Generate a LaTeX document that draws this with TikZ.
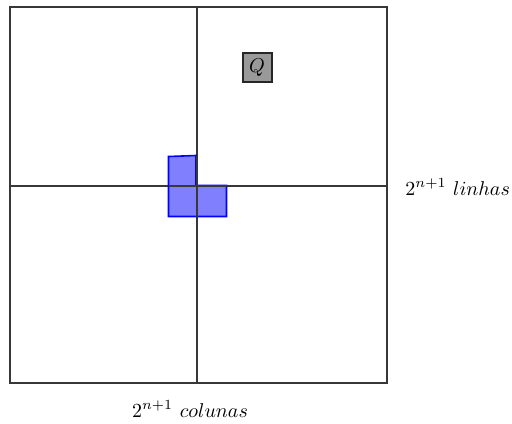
\documentclass[tikz,border=0pt]{standalone}
\begin{document}
\begin{tikzpicture}[x=0.5pt,y=-0.5pt,
  gridline/.style={draw=black!78,line width=1pt},
  tromino/.style={draw=blue,fill=blue!50,line width=0.8pt,line join=miter},
  qbox/.style={draw=black!85,fill=black!40,line width=1pt,minimum width=14.5pt,minimum height=14.5pt,inner sep=0pt},
  lbl/.style={inner sep=0pt}]
\useasboundingbox (0,0) rectangle (512,423);
\draw[gridline] (10,7) rectangle (386.5,382.5);
\draw[gridline] (196.5,7) -- (196.5,382.5);
\draw[gridline] (10,185.5) -- (386.5,185.5);
\fill[tromino] (168.5,156.5) -- (196,155.5) -- (196,185.5) -- (226.5,185.5) -- (226.5,216.5) -- (168.5,216.5) -- cycle;
\draw[gridline] (196.5,156) -- (196.5,216.5);
\draw[gridline] (168.5,185.5) -- (226.5,185.5);
\node[qbox] (q) at (257,67.5) {$Q$};
\node[lbl,anchor=base west] (rows) at (405,195) {$2^{n+1}$\ $linhas$};
\node[lbl,anchor=base] (cols) at (190,417) {$2^{n+1}$\ $colunas$};
\end{tikzpicture}
\end{document}
